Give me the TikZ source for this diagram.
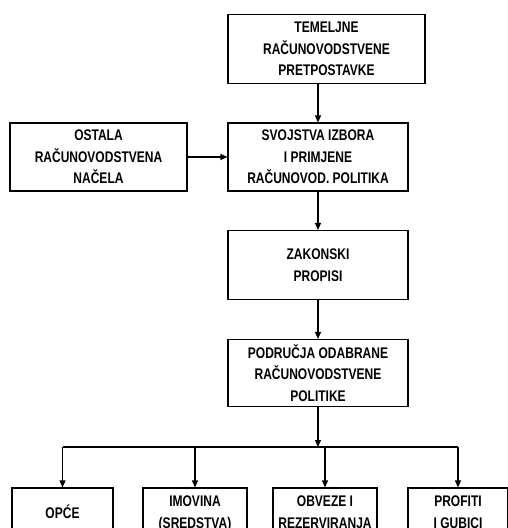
\documentclass[tikz,border=0pt]{standalone}
\usepackage{fontspec}
\setmainfont{Liberation Sans}[FakeStretch=0.78]
\usepackage{tikz}
\usetikzlibrary{arrows.meta,positioning,calc}

\tikzset{
  box/.style={draw, line width=1.1pt, align=center, inner sep=1pt, text depth=0pt,
    font=\fontsize{15.4}{21.5}\selectfont\bfseries},
  arr/.style={line width=1.1pt, -{Triangle[length=7pt,width=6pt]}}
}

\begin{document}
\begin{tikzpicture}[x=1pt,y=-1pt]
  \useasboundingbox (0,0) rectangle (508,528);
  \clip (0,0) rectangle (508,528);
  \node[box, minimum width=197, minimum height=69] (temelj) at (326.5,49) {TEMELJNE\\RAČUNOVODSTVENE\\PRETPOSTAVKE};
  \node[box, minimum width=180, minimum height=68] (svojst) at (318,157) {SVOJSTVA IZBORA\\I PRIMJENE\\RAČUNOVOD. POLITIKA};
  \node[box, minimum width=177, minimum height=68] (ostala) at (98.5,157) {OSTALA\\RAČUNOVODSTVENA\\NAČELA};
  \node[box, minimum width=180, minimum height=69] (zakon) at (318,265) {ZAKONSKI\\PROPISI};
  \node[box, minimum width=180, minimum height=67] (podr) at (318,373) {PODRUČJA ODABRANE\\RAČUNOVODSTVENE\\POLITIKE};
  % bottom row, cut by the page edge
  \node[box, minimum width=101, minimum height=48] (opce) at (62.5,512) {OPĆE};
  \node[box, minimum width=104, minimum height=48] (imov) at (195,512) {IMOVINA\\(SREDSTVA)};
  \node[box, minimum width=104, minimum height=48] (obvez) at (325,512) {OBVEZE I\\REZERVIRANJA};
  \node[box, minimum width=100, minimum height=48] (profit) at (458,512) {PROFITI\\I GUBICI};
  \coordinate (split) at (318,447);

  \draw[arr] (temelj.south -| svojst.north) -- (svojst.north);
  \draw[arr] (ostala) -- (svojst);
  \draw[arr] (svojst) -- (zakon);
  \draw[arr] (zakon) -- (podr);
  \draw[arr] (podr) -- (split);
  \draw[line width=1.1pt] (split -| opce.north) -- (split -| profit.north);
  \foreach \n in {opce,imov,obvez,profit}
    \draw[arr] (split -| \n.north) -- (\n.north);
\end{tikzpicture}
\end{document}
